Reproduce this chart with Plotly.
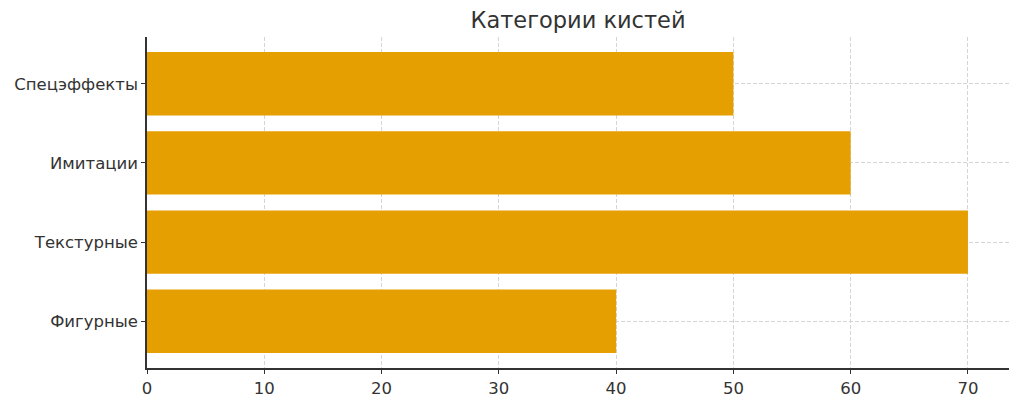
import plotly.graph_objects as go

# данные
categories = ["Фигурные", "Текстурные", "Имитации", "Спецэффекты"]
values = [40, 70, 60, 50]
x_ticks = [0, 10, 20, 30, 40, 50, 60, 70]

BAR_COLOR = "#E69F00"
FONT = "DejaVu Sans, sans-serif"

fig = go.Figure()
fig.add_trace(go.Bar(
    x=values,
    y=categories,
    orientation="h",
    width=0.8,
    marker=dict(color=BAR_COLOR, line=dict(width=0)),
))

axis_style = dict(
    showgrid=True,
    gridcolor="#d4d4d4",
    griddash="4px,2px",
    gridwidth=0.8,
    showline=True,
    linecolor="#333",
    linewidth=1.5,
    ticks="outside",
    ticklen=4,
    tickcolor="#333",
    tickfont=dict(size=16.5, family=FONT, color="#333"),
    zeroline=False,
    automargin=False,
)

# страница имеет отступ 8px, поэтому фигура 1008x390
fig.update_layout(
    title=dict(
        text="Категории кистей",
        x=570 / 1008, xanchor="center",
        y=1 - 12 / 390, yanchor="middle",
        font=dict(size=22.5, family=FONT, color="#333"),
    ),
    xaxis=dict(range=[0, 73.5], tickvals=x_ticks, **axis_style),
    yaxis=dict(range=[-0.59, 3.59], **axis_style),
    plot_bgcolor="white",
    paper_bgcolor="white",
    showlegend=False,
    width=1008,
    height=390,
    margin=dict(l=139, r=7, t=29, b=30),
)

fig.write_html("out.html")
